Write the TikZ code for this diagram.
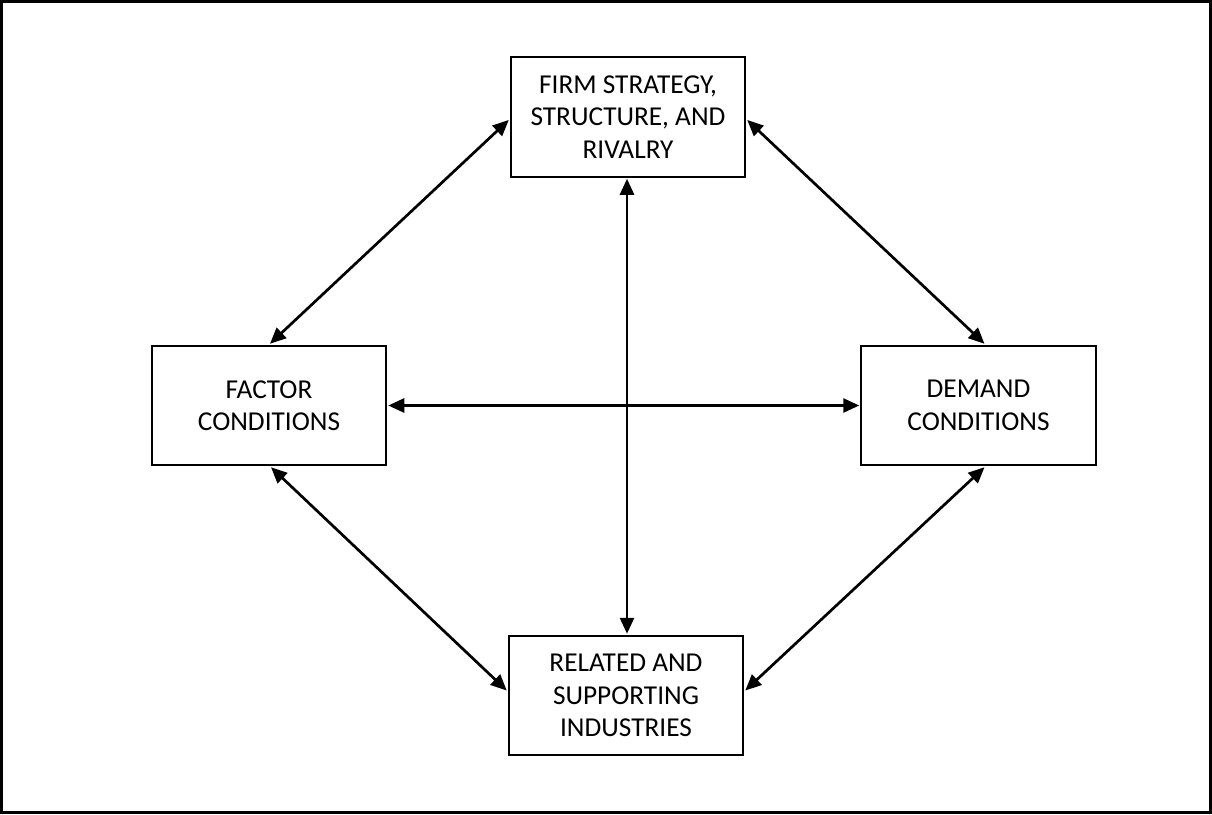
\documentclass[tikz,border=0pt]{standalone}
\usepackage{fontspec}
\setmainfont{Carlito}
\usetikzlibrary{arrows.meta}
\begin{document}
\begin{tikzpicture}[x=1pt,y=-1pt,
  box/.style={draw=black, line width=1.7pt, minimum width=234.5pt, minimum height=119.5pt,
    align=center, inner sep=0pt, outer sep=2pt,
    font=\fontsize{27.3}{32.5}\selectfont},
  link/.style={line width=2.7pt, {Triangle[length=16pt,width=14pt]}-{Triangle[length=16pt,width=14pt]}}
]
\useasboundingbox (0,0) rectangle (1212,814);
\draw[line width=3pt] (1.5,1.5) rectangle (1210.5,812.5);
\node[box] (firm) at (628,117) {FIRM STRATEGY,\\STRUCTURE, AND\\RIVALRY};
\node[box] (factor) at (269,405.5) {FACTOR\\CONDITIONS};
\node[box] (demand) at (978.5,405.5) {DEMAND\\CONDITIONS};
\node[box] (rel) at (626,695.5) {RELATED AND\\SUPPORTING\\INDUSTRIES};
\draw[link] ([yshift=-3pt]firm.west) -- ([xshift=1pt]factor.north);
\draw[link] ([yshift=-3pt]firm.east) -- ([xshift=6pt]demand.north);
\draw[link] ([xshift=2pt]factor.south) -- ([yshift=5pt]rel.west);
\draw[link] ([xshift=6pt]demand.south) -- ([yshift=5pt]rel.east);
\draw[link] (factor.east) -- (demand.west);
\draw[link] ([xshift=-1pt]firm.south) -- ([xshift=-1pt]firm.south |- rel.north);
\end{tikzpicture}
\end{document}
